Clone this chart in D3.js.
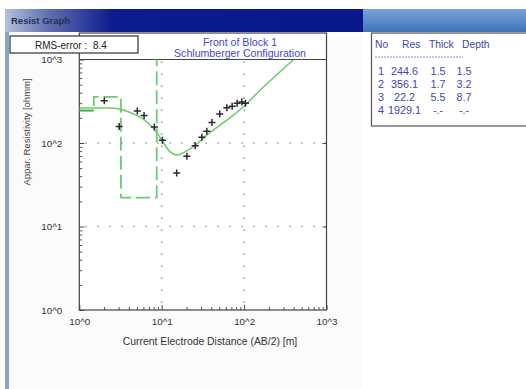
<!DOCTYPE html>
<html><head><meta charset="utf-8">
<script src="https://cdn.jsdelivr.net/npm/d3@7"></script>
<style>
body{margin:0;background:#fff;}
svg{display:block;font-family:"Liberation Sans",Arial,sans-serif;}
</style>
</head><body>
<svg id="c" width="526" height="389"></svg>
<script>
// ---- data ----
const obsAB2 = [2.01, 3.05, 5.06, 6.11, 8.15, 10.2, 15.2, 20.2, 25.5, 30.7, 35.3, 40.7, 50.6, 61.7, 71.6, 82.3, 93.9, 104];
const obsRho = [321, 158, 242, 213, 155, 108, 43.7, 69.5, 92.6, 117, 138, 176, 222, 265, 275, 299, 310, 299];
const fitAB2 = [1.0, 1.48, 2.71, 3.94, 5.73, 7.92, 10.0, 12.6, 15.2, 24.3, 35.3, 51.2, 74.2, 98.2, 157, 400];
const fitRho = [262, 262, 260, 237, 198, 150, 109, 78.7, 71.8, 90.3, 125, 164, 216, 272, 431, 1000];
const layerNo = [1, 2, 3, 4];
const layerRes = [244.6, 356.1, 22.2, 1929.1];
const layerThick = [1.5, 1.7, 5.5, null];
const layerDepth = [1.5, 3.2, 8.7, null];
const tableHead = ["No", "Res", "Thick", "Depth"];
const xTicks = [1, 10, 100, 1000];
const yTicks = [1, 10, 100, 1000];
const rmsError = 8.4;
const titleLines = ["Front of Block 1", "Schlumberger Configuration"];
const windowTitle = "Resist Graph";
const xTitle = "Current Electrode Distance (AB/2) [m]";
const yTitle = "Appar. Resistivity [ohmm]";

// ---- layout ----
const L = 79.3, R = 326.5, T = 59.5, B = 310, HT = 33;
const svg = d3.select("#c");
const x = d3.scaleLog().domain([1, 1000]).range([L, R]);
const y = d3.scaleLog().domain([1, 1000]).range([B, T]);

// window chrome
const defs = svg.append("defs");
const g1 = defs.append("linearGradient").attr("id","tb").attr("x1","0").attr("x2","1");
g1.append("stop").attr("offset","0").attr("stop-color","#b4c0dc");
g1.append("stop").attr("offset","0.12").attr("stop-color","#6070b0");
g1.append("stop").attr("offset","0.3").attr("stop-color","#0c1c8c");
g1.append("stop").attr("offset","1").attr("stop-color","#08188a");
const g2 = defs.append("linearGradient").attr("id","tb2").attr("x1","0").attr("x2","0").attr("y1","0").attr("y2","1");
g2.append("stop").attr("offset","0").attr("stop-color","#7aa4d8");
g2.append("stop").attr("offset","1").attr("stop-color","#3e72b8");
defs.append("clipPath").attr("id","pc").append("rect").attr("x",L).attr("y",T).attr("width",R-L).attr("height",B-T);

svg.append("rect").attr("x",0).attr("y",0).attr("width",526).attr("height",389).attr("fill","#ffffff");
svg.append("rect").attr("x",9).attr("y",32).attr("width",354).attr("height",357).attr("fill","#fbfbfb");
svg.append("rect").attr("x",5).attr("y",9).attr("width",4).attr("height",380).attr("fill","#8ca4c8");
svg.append("rect").attr("x",5).attr("y",9).attr("width",358).attr("height",23).attr("fill","url(#tb)");
svg.append("rect").attr("x",363).attr("y",9).attr("width",163).attr("height",23).attr("fill","url(#tb2)");
svg.append("text").attr("x",11).attr("y",24).attr("font-size",9.5).attr("font-weight","bold")
  .attr("fill","#2a3050").text(windowTitle);

// plot area
svg.append("rect").attr("x",L).attr("y",HT).attr("width",R-L).attr("height",B-HT).attr("fill","#ffffff");

// grid
const gridG = svg.append("g").attr("stroke","#9a9a9a").attr("stroke-width",1.6).attr("stroke-dasharray","1.5,10.5");
[10,100].forEach(v=>{
  gridG.append("line").attr("x1",L+6).attr("x2",R).attr("y1",y(v)).attr("y2",y(v));
  gridG.append("line").attr("x1",x(v)).attr("x2",x(v)).attr("y1",T+2).attr("y2",B);
});

// minor ticks
const minor = [];
[1,10,100].forEach(d=>{for(let k=2;k<=9;k++) minor.push(k*d);});
svg.append("g").attr("transform",`translate(${L},0)`)
  .call(d3.axisLeft(y).tickValues(minor).tickSize(-3).tickFormat("").tickSizeOuter(0))
  .call(g=>g.select(".domain").remove()).selectAll("line").attr("stroke","#555");
svg.append("g").attr("transform",`translate(0,${B})`)
  .call(d3.axisBottom(x).tickValues(minor).tickSize(-3).tickFormat("").tickSizeOuter(0))
  .call(g=>g.select(".domain").remove()).selectAll("line").attr("stroke","#555");
svg.append("g").attr("transform",`translate(${R},0)`)
  .call(d3.axisRight(y).tickValues([10,100]).tickSize(-4).tickFormat("").tickSizeOuter(0))
  .call(g=>g.select(".domain").remove()).selectAll("line").attr("stroke","#444");

// major axes
const fmt = d => "10^" + Math.round(Math.log10(d));
const ya = svg.append("g").attr("transform",`translate(${L},0)`)
  .call(d3.axisLeft(y).tickValues(yTicks).tickSize(-5).tickPadding(17).tickFormat(fmt).tickSizeOuter(0));
ya.select(".domain").remove();
ya.selectAll("line").attr("stroke","#444");
ya.selectAll("text").attr("font-size",9.8).attr("fill","#333").attr("font-family","Liberation Sans, Arial, sans-serif");
const xa = svg.append("g").attr("transform",`translate(0,${B})`)
  .call(d3.axisBottom(x).tickValues(xTicks).tickSize(-5).tickPadding(8).tickFormat(fmt).tickSizeOuter(0));
xa.select(".domain").remove();
xa.selectAll("line").attr("stroke","#444");
xa.selectAll("text").attr("font-size",9.8).attr("fill","#333").attr("font-family","Liberation Sans, Arial, sans-serif");

// frame
svg.append("rect").attr("x",L).attr("y",HT).attr("width",R-L).attr("height",B-HT)
  .attr("fill","none").attr("stroke","#444").attr("stroke-width",1.2);
svg.append("line").attr("x1",L).attr("x2",R).attr("y1",T).attr("y2",T).attr("stroke","#444").attr("stroke-width",1.2);

// header
titleLines.forEach((t,i)=>{
  svg.append("text").attr("x",240).attr("y",45.5+i*11.6).attr("text-anchor","middle")
    .attr("font-size",10.6).attr("fill","#4848c4").text(t);
});

// RMS box
svg.append("rect").attr("x",10).attr("y",36).attr("width",128).attr("height",17)
  .attr("fill","#ffffff").attr("stroke","#333").attr("stroke-width",1.2);
svg.append("text").attr("x",35).attr("y",48.5).attr("font-size",10).attr("fill","#222").text("RMS-error :");
svg.append("text").attr("x",93).attr("y",48.5).attr("font-size",10).attr("fill","#222").text(rmsError.toFixed(1));

// titles
svg.append("text").attr("x",210).attr("y",344.5).attr("text-anchor","middle")
  .attr("font-size",10.4).attr("fill","#333").text(xTitle);
svg.append("text").attr("transform","translate(29.5,132) rotate(-90)").attr("text-anchor","middle")
  .attr("font-size",9.5).attr("fill","#444").text(yTitle);

// plot content
const pg = svg.append("g").attr("clip-path","url(#pc)");
// layered model steps
const steps = [[1, layerRes[0]]];
layerRes.forEach((r,i)=>{
  const d = layerDepth[i] != null ? layerDepth[i] : 1000;
  steps.push([d, r]);
  if (i < layerRes.length-1) steps.push([d, layerRes[i+1]]);
});
pg.append("path").datum(steps)
  .attr("d", d3.line().x(d=>x(d[0])).y(d=>y(d[1])))
  .attr("fill","none").attr("stroke","#6ccd6c").attr("stroke-width",1.8)
  .attr("stroke-dasharray","14,5");
// fitted curve
const fit = fitAB2.map((a,i)=>[a, fitRho[i]]);
pg.append("path").datum(fit)
  .attr("d", d3.line().x(d=>x(d[0])).y(d=>y(d[1])).curve(d3.curveCatmullRom.alpha(0.5)))
  .attr("fill","none").attr("stroke","#6ccd6c").attr("stroke-width",1.5);
// first segment darker (overlap)
pg.append("path").datum(steps.slice(0,2))
  .attr("d", d3.line().x(d=>x(d[0])).y(d=>y(d[1])))
  .attr("fill","none").attr("stroke","#3aa83a").attr("stroke-width",1.6);
// observed points
pg.selectAll("path.obs").data(obsAB2.map((a,i)=>[a, obsRho[i]])).enter().append("path")
  .attr("class","obs")
  .attr("transform", d=>`translate(${x(d[0])},${y(d[1])})`)
  .attr("d","M-3.5,0H3.5M0,-3.5V3.5")
  .attr("stroke","#2a2a2a").attr("stroke-width",1.5).attr("fill","none");

// table
svg.append("rect").attr("x",371.5).attr("y",33).attr("width",160).attr("height",93)
  .attr("fill","#ffffff").attr("stroke","#555").attr("stroke-width",1.2);
const headX = [375, 402, 429, 462];
tableHead.forEach((h,i)=>{
  svg.append("text").attr("x",headX[i]).attr("y",47.5).attr("font-size",10.3).attr("fill","#4444b4").text(h);
});
svg.append("line").attr("x1",375).attr("x2",463).attr("y1",57).attr("y2",57)
  .attr("stroke","#7070c8").attr("stroke-width",0.8).attr("stroke-dasharray","2,1");
const colX = [381, 404.5, 438, 464];
const cellFmt = v => v == null ? "-.-" : String(v);
layerNo.forEach((n,i)=>{
  const row = [n, layerRes[i].toFixed(1), cellFmt(layerThick[i]), cellFmt(layerDepth[i])];
  row.forEach((c,j)=>{
    svg.append("text").attr("x",colX[j]).attr("y",74.5+i*13.2).attr("text-anchor","middle")
      .attr("font-size",10.8).attr("fill","#4444b4").text(c);
  });
});
</script>
</body></html>
